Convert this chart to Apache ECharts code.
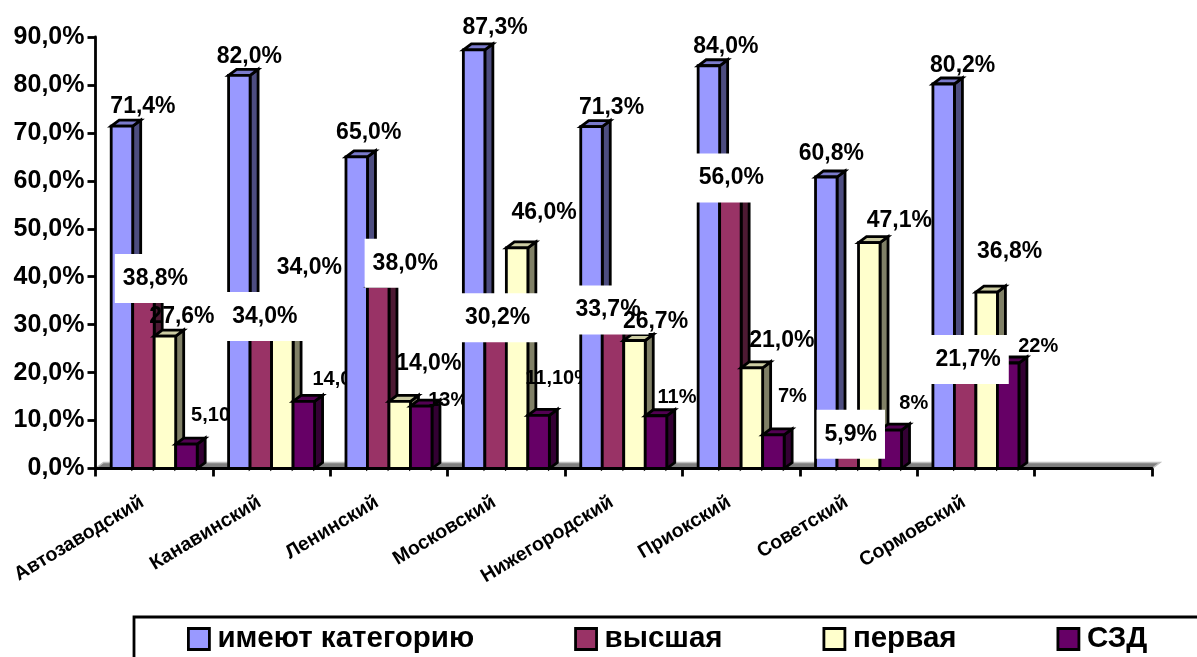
<!DOCTYPE html>
<html><head><meta charset="utf-8">
<style>html,body{margin:0;padding:0;background:#fff;overflow:hidden}#c{width:1197px;height:657px}</style>
<script src="https://cdn.jsdelivr.net/npm/echarts@6/dist/echarts.min.js"></script>
</head><body><div id="c"></div>
<script>
const categories = ['Автозаводский','Канавинский','Ленинский','Московский','Нижегородский','Приокский','Советский','Сормовский',''];
const yTickLabels = ['0,0%','10,0%','20,0%','30,0%','40,0%','50,0%','60,0%','70,0%','80,0%','90,0%'];
const seriesNames = ['имеют категорию','высшая','первая','СЗД'];
const imeyut = [71.4,82.0,65.0,87.3,71.3,84.0,60.8,80.2];
const vysshaya = [38.8,34.0,38.0,30.2,33.7,56.0,5.9,21.7];
const pervaya = [27.6,34.0,14.0,46.0,26.7,21.0,47.1,36.8];
const szd = [5.1,14.0,13.0,11.1,11.0,7.0,8.0,22.0];
const imeyutLabels = ['71,4%','82,0%','65,0%','87,3%','71,3%','84,0%','60,8%','80,2%'];
const vysshayaLabels = ['38,8%','34,0%','38,0%','30,2%','33,7%','56,0%','5,9%','21,7%'];
const pervayaLabels = ['27,6%','34,0%','14,0%','46,0%','26,7%','21,0%','47,1%','36,8%'];
const szdLabels = ['5,10%','14,0%','13%','11,10%','11%','7%','8%','22%'];

// manual label placement, as pixel nudges from the top centre of each bar
const nudges = [
  [[21,-20],[10,-19],[12,-24],[21,-22],[20,-19],[17,-19],[5,-23],[19,-18]],
  [[12,-4],[4,11],[27,-23],[2,-6],[-5,3],[1,-22],[3,-6],[3,-5]],
  [[17,-20],[27,-38],[29,-38],[27,-35],[21,-19],[30,-27],[30,-22],[23,-40]],
  [[33,-29],[37,-22],[27,-6],[20,-37],[21,-18],[19,-38],[23,-27],[30,-17]]
];
const palette = [
  {front:'#9999FF',side:'#4D4D80',top:'#7A7ACC'},
  {front:'#993366',side:'#4D1A33',top:'#7A2952'},
  {front:'#FFFFCC',side:'#808066',top:'#CCCCA3'},
  {front:'#660066',side:'#330033',top:'#520052'}
];
const values = [imeyut,vysshaya,pervaya,szd];
const labels = [imeyutLabels,vysshayaLabels,pervayaLabels,szdLabels];
const DX = 8, DY = 6, BAR_RATIO = 21.5/117.4, OUT = 2.8;
const FONT = '"Liberation Sans", Arial, sans-serif';

function barSeries(s){
  return {
    type:'custom', name:seriesNames[s], coordinateSystem:'cartesian2d', clip:false,
    encode:{x:0,y:1},
    data:values[s].map((v,i)=>[i,v]),
    itemStyle:{color:palette[s].front},
    renderItem(params,api){
      const cat=api.value(0), v=api.value(1);
      const top=api.coord([cat,v]), base=api.coord([cat,0]);
      const w=api.size([1,0])[0]*BAR_RATIO;
      const xl=top[0]+(s-2)*w, xr=xl+w, yt=top[1], yb=base[1];
      const z=100+cat*100+s*10, c=palette[s];
      const st=f=>({fill:f,stroke:'#000',lineWidth:OUT,lineJoin:'miter'});
      const children=[
        {type:'polygon',z2:z,shape:{points:[[xr,yt],[xr+DX,yt-DY],[xr+DX,yb-DY],[xr,yb]]},style:st(c.side)},
        {type:'polygon',z2:z,shape:{points:[[xl,yt],[xl+DX,yt-DY],[xr+DX,yt-DY],[xr,yt]]},style:st(c.top)},
        {type:'polygon',z2:z+1,shape:{points:[[xl,yt],[xr,yt],[xr,yb],[xl,yb]]},style:st(c.front)}
      ];
      const n=nudges[s][cat], boxed=s===1, small=s===3;
      children.push({type:'text',z2:small?z+2:z+60+s,
        style:{
          text:labels[s][cat], x:xl+w/2+n[0], y:yt+n[1], align:'center', verticalAlign:'middle',
          fill:'#000', font:'bold '+(small?20:23)+'px '+FONT,
          backgroundColor:boxed?'#fff':'transparent', padding:boxed?[13,8,13,8]:0
        }});
      return {type:'group',children};
    }
  };
}
const floorSeries = {
  type:'custom', silent:true, coordinateSystem:'cartesian2d', clip:false, z:1,
  encode:{x:0,y:1}, data:[[0,0]],
  renderItem(params,api){
    const g=params.coordSys, y=g.y+g.height, l=g.x, r=g.x+g.width;
    return {type:'group',children:[
      {type:'polygon',shape:{points:[[l,y],[l+DX,y-DY],[r+DX,y-DY],[r,y]]},style:{fill:'#808080',stroke:'#C0C0C0',lineWidth:1.5}}
    ]};
  }
};

const chart = echarts.init(document.getElementById('c'),null,{renderer:'canvas'});
chart.setOption({
  animation:false,
  backgroundColor:'#fff',
  grid:{left:95.5,top:37,width:1056.5,height:431.5,containLabel:false},
  xAxis:{type:'category',data:categories,boundaryGap:true,z:50,
    axisLine:{lineStyle:{color:'#000',width:2.8}},
    axisTick:{show:true,length:8,interval:0,alignWithLabel:false,lineStyle:{color:'#000',width:2.8}},
    axisLabel:{interval:0,rotate:31,margin:25,padding:[0,14,0,0],color:'#000',fontSize:19.5,fontWeight:'bold',fontFamily:FONT}
  },
  yAxis:{type:'value',min:0,max:90,interval:10,z:50,
    splitLine:{show:false},
    axisLine:{show:true,lineStyle:{color:'#000',width:2.8}},
    axisTick:{show:true,length:8,lineStyle:{color:'#000',width:2.8}},
    axisLabel:{margin:11,color:'#000',fontSize:25,fontWeight:'bold',fontFamily:FONT,
      formatter:v=>yTickLabels[Math.round(v/10)]}
  },
  legend:{left:187,top:624,padding:0,itemWidth:21,itemHeight:21,itemGap:100,icon:'rect',selectedMode:false,
    textStyle:{color:'#000',fontSize:29.5,fontWeight:'bold',fontFamily:FONT,padding:[0,0,0,3]},
    data:seriesNames.map((n,s)=>({name:n,itemStyle:{color:palette[s].front,borderColor:'#000',borderWidth:2.8}}))
  },
  graphic:[{type:'rect',silent:true,shape:{x:134,y:617,width:1200,height:120},style:{fill:'none',stroke:'#000',lineWidth:2.8}}],
  series:[floorSeries,barSeries(0),barSeries(1),barSeries(2),barSeries(3)]
});
</script></body></html>
